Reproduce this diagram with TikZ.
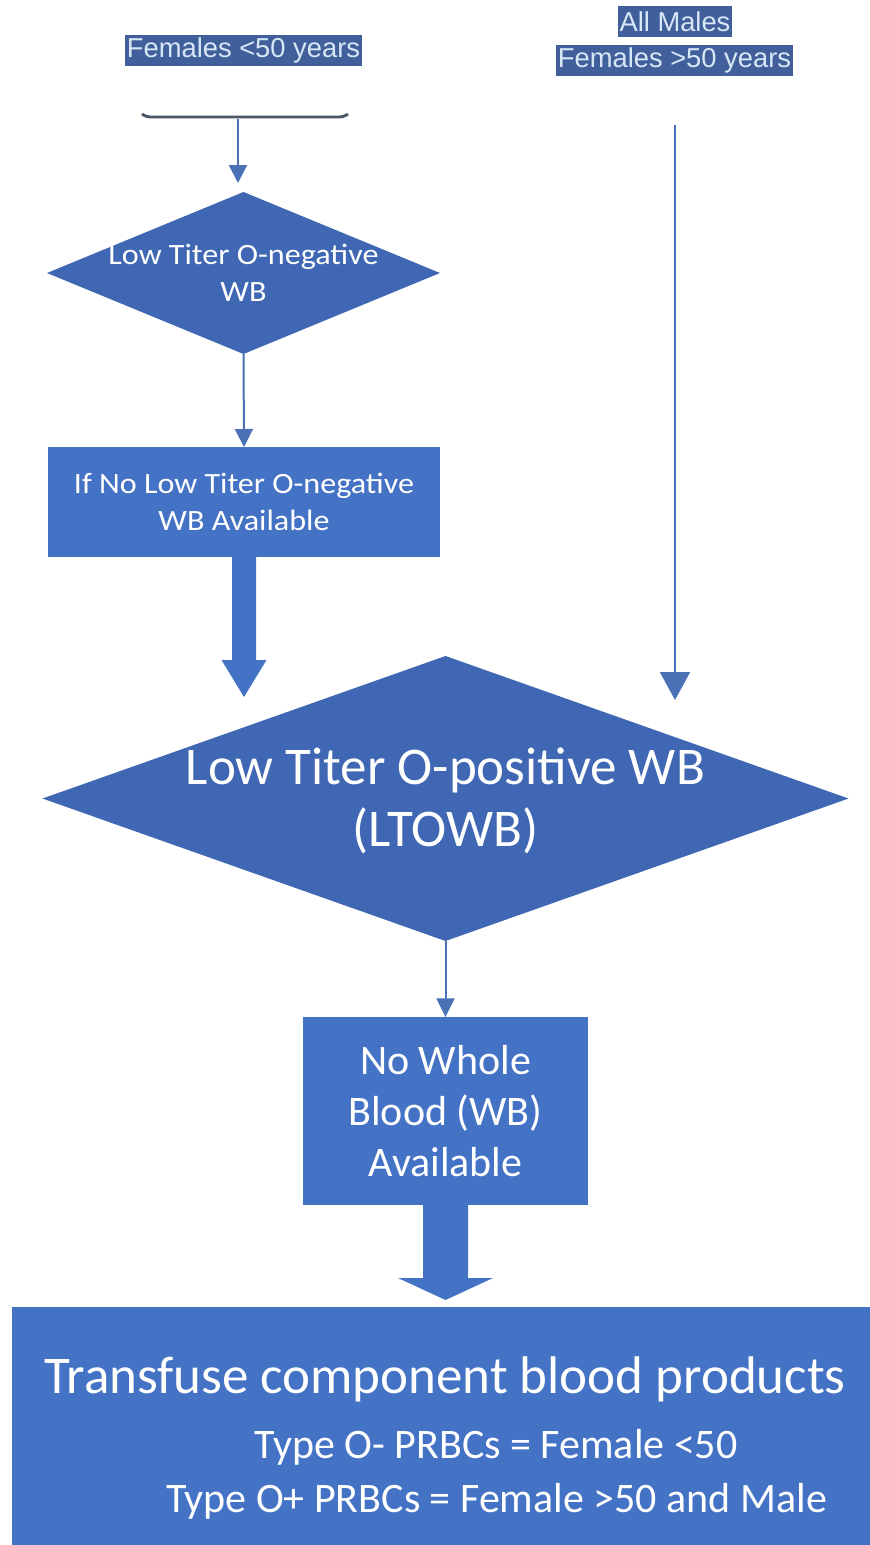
\documentclass[tikz,border=0pt]{standalone}
\usepackage{fontspec}
\usetikzlibrary{shapes.geometric,arrows.meta,calc}
\newfontfamily\calfont{Carlito}
\newfontfamily\calwide[FakeStretch=1.09]{Carlito}
\newfontfamily\arialfont{Liberation Sans}
\definecolor{boxblue}{HTML}{4472C4}
\definecolor{diablue}{HTML}{3F67B3}
\definecolor{labbg}{HTML}{41609B}
\definecolor{labtxt}{HTML}{D8E7F6}
\definecolor{linecol}{HTML}{4A70B5}
\definecolor{toplinecol}{HTML}{4B5766}
\begin{document}
\begin{tikzpicture}[x=0.75pt,y=-0.75pt,
  lab/.style={fill=labbg,text=labtxt,font=\arialfont\fontsize{20.5pt}{24pt}\selectfont,
    inner xsep=1.5pt,inner ysep=0pt,minimum height=23.25pt},
  dia/.style={diamond,fill=diablue,draw=none,inner sep=0pt,outer sep=0pt},
  box/.style={rectangle,fill=boxblue,draw=none,inner sep=0pt,outer sep=0pt},
  smalltxt/.style={text=white,align=center,inner sep=0pt,font=\calwide\fontsize{22.1pt}{28pt}\selectfont},
  bigtxt/.style={text=white,align=center,inner sep=0pt,font=\calfont\fontsize{39.75pt}{47pt}\selectfont},
  midtxt/.style={text=white,align=center,inner sep=0pt,font=\calfont\fontsize{31.5pt}{38pt}\selectfont},
  thinarrow/.style={draw=linecol,line width=1.5pt},
  blockarrow/.style={fill=boxblue}
]
\useasboundingbox (0,0) rectangle (870,1545);

% top labels
\node[lab] (l1) at (243.5,50.5) {Females <50 years};
\node[lab] (l2) at (675,21.5) {All Males};
\node[lab] (l3) at (674.5,60.5) {Females >50 years};

% remnant line under first label
\coordinate (tlA) at (142,114);
\coordinate (tlB) at (146,117);
\coordinate (tlC) at (344,117);
\coordinate (tlD) at (348,114);
\draw[toplinecol,line width=2.2pt,rounded corners=3pt] (tlA) -- (tlB) -- (tlC) -- (tlD);

% nodes
\node[dia,minimum width={393*0.75pt},minimum height={162*0.75pt}] (d1) at (243.5,273) {};
\node[smalltxt] (d1t) at (d1.center) {Low Titer O-negative\\WB};

\node[box,minimum width={392*0.75pt},minimum height={110*0.75pt}] (b1) at (244,502) {};
\node[smalltxt] (b1t) at (b1.center) {If No Low Titer O-negative\\WB Available};

\node[dia,minimum width={806*0.75pt},minimum height={285*0.75pt}] (d2) at (445.5,798.5) {};
\node[bigtxt] (d2t) at (445.5,801) {Low Titer O-positive WB\\(LTOWB)};

\node[box,minimum width={285*0.75pt},minimum height={188*0.75pt}] (b2) at (445.5,1111) {};
\node[midtxt] (b2t) at (b2.center) {No Whole\\Blood (WB)\\Available};

\node[box,minimum width={858*0.75pt},minimum height={240*0.75pt}] (b3) at (441,1427) {};
\node[bigtxt,anchor=base] (b3t1) at (445,1393) {Transfuse component blood products};
\node[midtxt,anchor=base] (b3t2) at (496,1458) {Type O- PRBCs = Female <50};
\node[midtxt,anchor=base] (b3t3) at (496.5,1512) {Type O+ PRBCs = Female >50 and Male};

% thin arrows
\coordinate (a1s) at (238,119);
\coordinate (a1e) at (238,183);
\draw[thinarrow,-{Triangle[width=13.5pt,length=13.5pt]}] (a1s) -- (a1e);
\draw[thinarrow,-{Triangle[width=13.5pt,length=13.5pt]}] (d1.south) -- (b1.north);
\coordinate (a4s) at (675,125);
\coordinate (a4e) at (675,700);
\draw[thinarrow,-{Triangle[width=22.5pt,length=21pt]}] (a4s) -- (a4e);
\draw[thinarrow,-{Triangle[width=13.5pt,length=14pt]}] (d2.south) -- (b2.north);

% block arrows
\coordinate (a3e) at (244,697);
\fill[blockarrow] ($(b1.south)+(-12,0)$) -- ($(b1.south)+(-12,103)$) -- ($(b1.south)+(-22.5,103)$)
  -- (a3e) -- ($(b1.south)+(22.5,103)$) -- ($(b1.south)+(12,103)$) -- ($(b1.south)+(12,0)$) -- cycle;
\coordinate (a6e) at (445.5,1300);
\fill[blockarrow] ($(b2.south)+(-22.5,0)$) -- ($(b2.south)+(-22.5,73)$) -- ($(b2.south)+(-47.5,73)$)
  -- (a6e) -- ($(b2.south)+(47.5,73)$) -- ($(b2.south)+(22.5,73)$) -- ($(b2.south)+(22.5,0)$) -- cycle;
\end{tikzpicture}
\end{document}
